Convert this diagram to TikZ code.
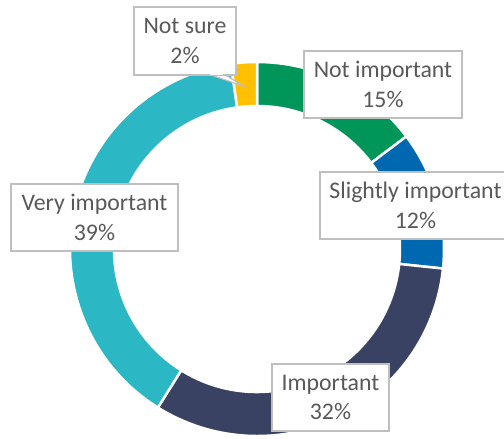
\documentclass[tikz,border=0pt]{standalone}
\usepackage{fontspec}
\setmainfont{Carlito}
\usetikzlibrary{calc}
\begin{document}
\definecolor{cgreen}{RGB}{0,150,90}
\definecolor{cblue}{RGB}{0,104,176}
\definecolor{cnavy}{RGB}{58,66,100}
\definecolor{ccyan}{RGB}{44,183,196}
\definecolor{cyellow}{RGB}{255,192,0}
\definecolor{ctext}{RGB}{89,89,89}
\definecolor{cborder}{RGB}{191,191,191}
\begin{tikzpicture}[x=1pt,y=1pt,
  slice/.style={draw=white,line width=2.5pt},
  lbl/.style={draw=cborder,line width=1.5pt,fill=white,text=ctext,align=center,
    font=\fontsize{23.8}{29.5}\selectfont,inner sep=0pt},
]
\useasboundingbox (0,0) rectangle (504,439);
\coordinate (c) at (257,190);
\def\Ro{187}
\def\Ri{143}
\newcommand{\ringslice}[3]{%
  \filldraw[slice,fill=#1] ($(c)+(#2:\Ro)$) arc[start angle=#2,end angle=#3,radius=\Ro]
    -- ($(c)+(#3:\Ri)$) arc[start angle=#3,end angle=#2,radius=\Ri] -- cycle;}
\ringslice{cgreen}{90}{37}
\ringslice{cblue}{37}{-6}
\ringslice{cnavy}{-6}{-122}
\ringslice{ccyan}{-122}{-262}
\ringslice{cyellow}{-262}{-270}
% labels
\node[lbl,minimum width=158pt,minimum height=67pt] (ni) at (383,354.5) {Not important\\15\%};
\node[lbl,minimum width=191pt,minimum height=67pt] (si) at (415.5,233.5) {Slightly important\\12\%};
\node[lbl,minimum width=117pt,minimum height=67pt] (im) at (330.5,41.5) {Important\\32\%};
\node[lbl,minimum width=167pt,minimum height=67pt] (vi) at (94.5,221.5) {Very important\\39\%};
\coordinate (tip) at (243,353);
\filldraw[draw=cborder,line width=1.2pt,fill=white] (208,365) -- (tip) -- (224,365);
\node[lbl,minimum width=102pt,minimum height=68pt] (ns) at (185,398) {Not sure\\2\%};
\fill[white] (209.5,363.5) -- (222.5,363.5) -- (222.5,366) -- (209.5,366) -- cycle;
\end{tikzpicture}
\end{document}
